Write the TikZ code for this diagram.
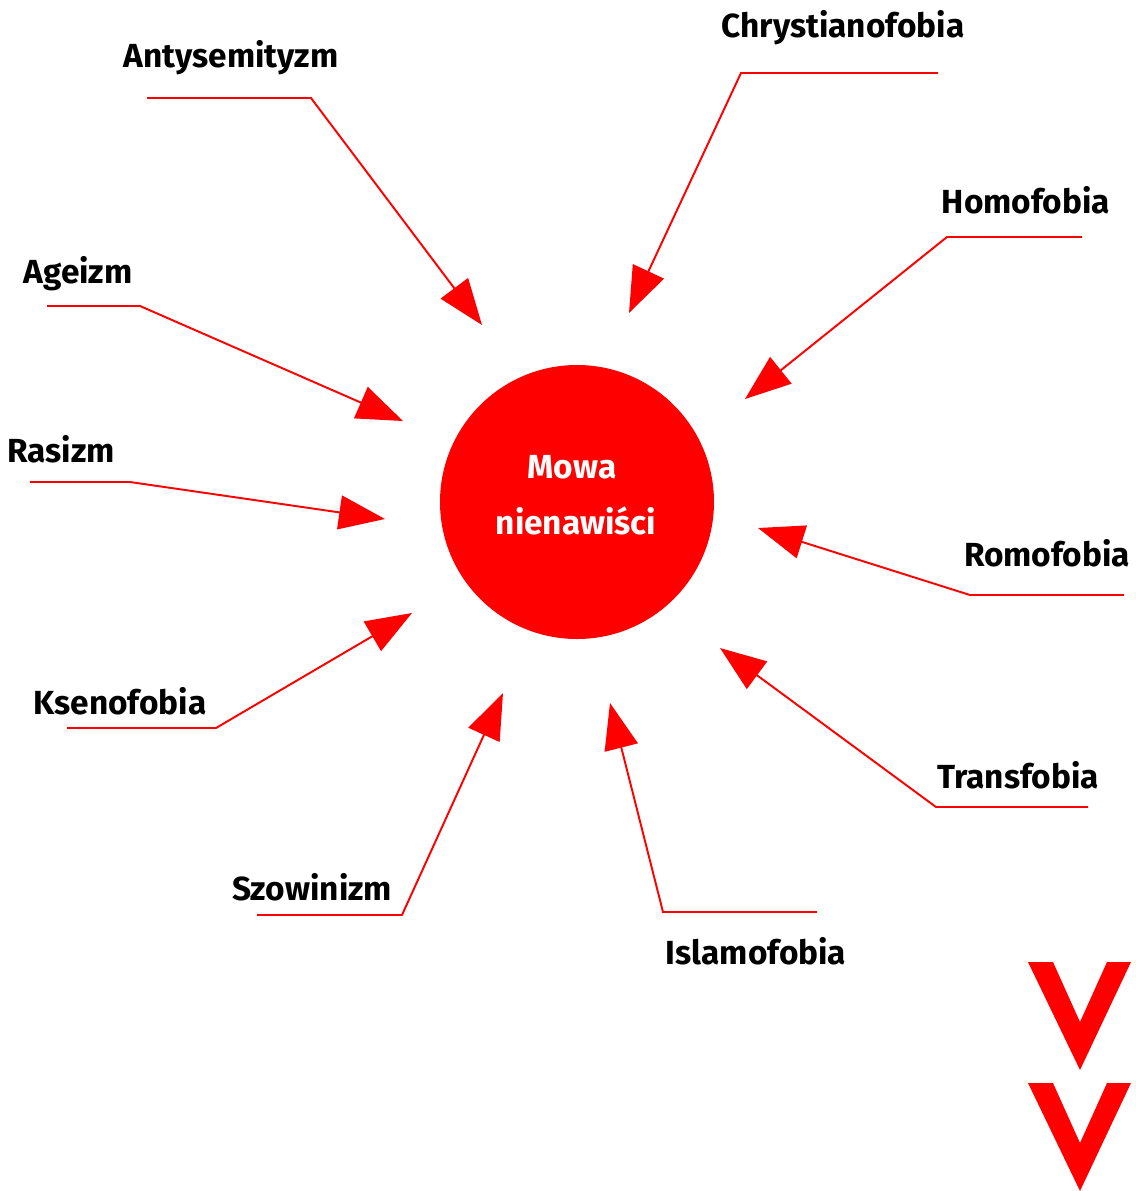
\documentclass[tikz,border=0pt]{standalone}
\usepackage{fontspec}
\setmainfont{Fira Sans}
\usepackage{tikz}
\usetikzlibrary{arrows.meta}

\tikzset{
    label/.style={font=\fontsize{19}{23}\selectfont\bfseries, text=black, inner sep=0pt},
    pointer/.style={red, line width=1.1pt, -{Triangle[length=9.2mm,width=6.8mm]}}
}

\begin{document}
\begin{tikzpicture}[x=0.02cm, y=-0.02cm]
    \useasboundingbox (0,0) rectangle (1136,1191);

    % Centre
    \fill [red] (577,502) circle (137);
    \node [label, text=white] (mowa) at (572,467) {Mowa};
    \node [label, text=white] (nien) at (576,521) {nienawiści};

    % Labels with their bent arrows
    \foreach \name/\txt/\lx/\ly/\ax/\ay/\bx/\by/\tx/\ty in {
        anty/Antysemityzm/231/58/147/98/311/98/482/325,
        chry/Chrystianofobia/843/28/938/73/741/73/629/313,
        homo/Homofobia/1026/200/1082/237/947/237/745/399,
        agei/Ageizm/78/274/47/306/140/306/403/421,
        rasi/Rasizm/61/449/30/482/130/482/385/519,
        romo/Romofobia/1047/553/1124/595/970/595/758/528,
        ksen/Ksenofobia/120/701/67/728/216/728/412/613,
        tran/Transfobia/1018/775/1088/807/936/807/720/648,
        szow/Szowinizm/312/887/257/915/402/915/503/693,
        isla/Islamofobia/756/951/817/912/663/912/610/703}{
        \node [label] (\name) at (\lx,\ly) {\txt};
        \coordinate (\name-a) at (\ax,\ay);
        \coordinate (\name-b) at (\bx,\by);
        \coordinate (\name-t) at (\tx,\ty);
        \draw [pointer] (\name-a) -- (\name-b) -- (\name-t);
    }

    % Chevrons
    \foreach \dy in {0, 121} {
        \fill [red] (1028,962+\dy) -- (1053,962+\dy) -- (1080,1022+\dy) -- (1107,962+\dy)
            -- (1131,962+\dy) -- (1080,1070+\dy) -- cycle;
    }
\end{tikzpicture}
\end{document}
